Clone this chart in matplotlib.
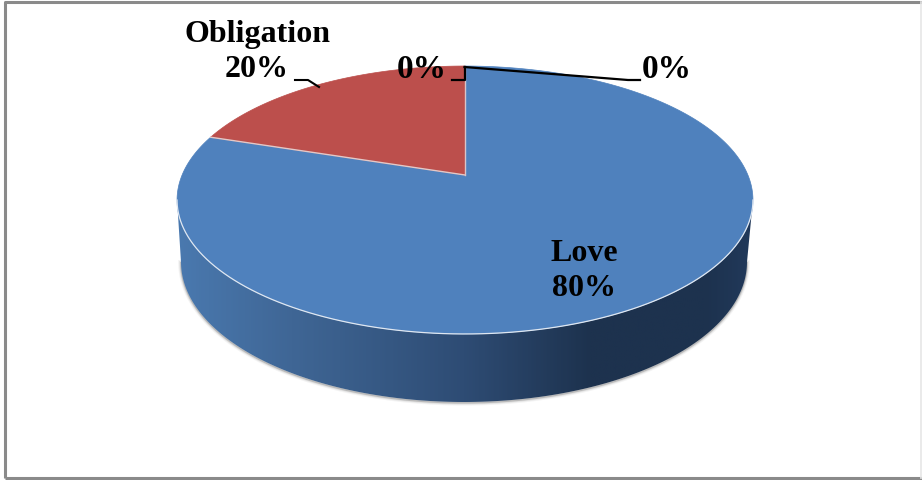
import numpy as np
import matplotlib
matplotlib.use('Agg')
import matplotlib.pyplot as plt
from matplotlib.colors import LinearSegmentedColormap
from matplotlib.patches import Polygon

categories = ['Love', 'Obligation', '', '']
values = [80, 20, 0, 0]
colors = ['#4F81BD', '#BC4F4C', '#9BBB59', '#8064A2']

# pie geometry on the page, in pixels
cx, cy = 465, 175
a, b, k = 282.9, 129.3, 0.1866


def project(theta):
    # theta runs clockwise from 12 o'clock, perspective squeezes the far side
    u, v = np.sin(theta), np.cos(theta)
    den = 1 + k * v
    return cx + a * u / den, cy - b * v / den


fig = plt.figure(figsize=(9.22, 4.8), dpi=100)
ax = fig.add_axes([0, 0, 1, 1])
ax.axis('off')

# frame
ax.plot([5, 5, 922], [478, 2, 2], color='#8a8a8a', lw=2.2, solid_capstyle='butt')
ax.plot([5, 922], [478, 478], color='#8a8a8a', lw=2.2, solid_capstyle='butt')
ax.plot([921, 921], [2, 478], color='#e6e6e6', lw=1.2)

# side of the disc, lower half between the widest points of the rim
t_left = np.pi + np.arccos(k)
t_right = np.pi - np.arccos(k)
t = np.linspace(t_right, t_left, 200)
rim_x, rim_y = project(t)
s = np.linspace(0, np.pi, 200)
low_x = 464 + 283 * np.cos(s)
low_y = 262 + 140 * np.sin(s)
side_xy = np.vstack([np.column_stack([rim_x, rim_y]), np.column_stack([low_x[::-1], low_y[::-1]])])

# soft shadow under the lower edge
for lw, al in [(4, 0.10), (2.5, 0.18), (1.2, 0.45)]:
    ax.plot(low_x, low_y + 0.8, color='#8c8c8c', lw=lw, alpha=al, zorder=1)

cmap = LinearSegmentedColormap.from_list(
    'side', [(0, '#4A79AF'), (0.2, '#3F6695'), (0.5, '#2E4C74'), (0.72, '#1D324E'),
             (0.92, '#1D324E'), (1, '#21395A')])
grad = ax.imshow(np.linspace(0, 1, 300).reshape(1, -1), cmap=cmap, aspect='auto',
                 extent=[176, 752, 410, 190], zorder=2)
side = Polygon(side_xy, closed=True, fc='none', ec='none', zorder=2)
ax.add_patch(side)
grad.set_clip_path(side)

# top face, slices clockwise from 12 o'clock
edges = np.cumsum([0] + values) / sum(values) * 2 * np.pi
for i in [0, 1]:
    th = np.linspace(edges[i], edges[i + 1], 300)
    x, y = project(th)
    ax.add_patch(Polygon(np.column_stack([np.r_[cx, x], np.r_[cy, y]]), closed=True,
                         fc=colors[i], ec=colors[i], lw=0.5, zorder=3))

# pale edges between slices and along the front rim
x, y = project(edges[1])
ax.plot([cx, x], [cy, y], color='#e2c9c9', lw=1, zorder=4)
ax.plot([cx, cx], [cy, 66], color='#d9c4c8', lw=1, zorder=4)
ax.plot(rim_x, rim_y, color='#dfe7f1', lw=0.9, zorder=4)

# leader lines
ax.plot([464.5, 628, 640], [67, 80, 80], color='k', lw=1.6, zorder=5)
ax.plot([464.5, 464.5, 452], [67, 80, 80], color='k', lw=1.6, zorder=5)
ax.plot([295, 308, 319], [80, 80, 87], color='k', lw=1.5, zorder=5)

# labels
font = dict(family='Liberation Serif', weight='bold', size=23, color='k',
            ha='center', va='center', linespacing=1.31, zorder=6)
ax.text(584, 271, f'{categories[0]}\n{values[0]}%', **font)
ax.text(257, 52, f'{categories[1]}\n{values[1]}%', **font)
ax.text(422, 69, f'{values[2]}%', size=24, **{k_: v for k_, v in font.items() if k_ != 'size'})
ax.text(667, 69, f'{values[3]}%', size=24, **{k_: v for k_, v in font.items() if k_ != 'size'})

ax.set_xlim(0, 922)
ax.set_ylim(480, 0)
fig.savefig('out.png', dpi=100, facecolor='white')
